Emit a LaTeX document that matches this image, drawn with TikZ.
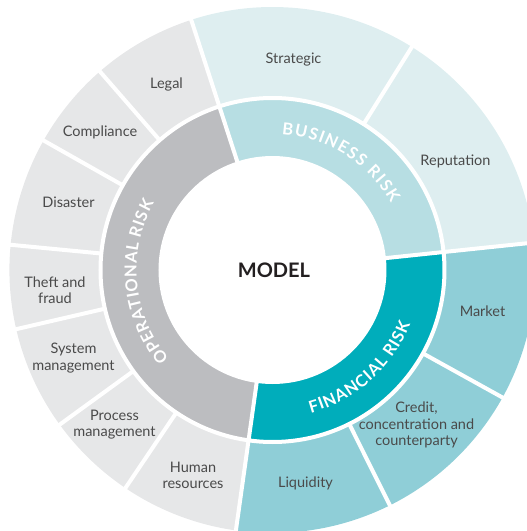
\documentclass[tikz,border=0pt]{standalone}
\usepackage{fontspec}
\setmainfont{Lato}
\usetikzlibrary{decorations.text}

\definecolor{bizmid}{HTML}{B7DEE3}
\definecolor{bizouter}{HTML}{DEEEF0}
\definecolor{finmid}{HTML}{00ADBB}
\definecolor{finouter}{HTML}{8FCED7}
\definecolor{opsmid}{HTML}{BCBDC0}
\definecolor{opsouter}{HTML}{E6E7E8}
\definecolor{labeltext}{HTML}{4A4A4A}
\definecolor{modeltext}{HTML}{231F20}

\tikzset{
  risklabel/.style={align=center, text=labeltext, inner sep=0pt,
    font=\fontsize{14.5}{16.5}\selectfont},
  gapline/.style={white, line width=4pt},
  ringtext/.style={decorate,
    decoration={text along path, text align={fit to path}, text color=white,
      text={|\fontsize{16.5}{16.5}\selectfont\bfseries|#1}}},
}

\begin{document}
\begin{tikzpicture}[x=1pt,y=1pt]
\useasboundingbox (-272.5,-261) rectangle (254.5,270);
\clip (-272.5,-261) rectangle (254.5,270);

\fill[bizouter] (0,0) -- (6:263) arc[start angle=6,end angle=108,radius=263] -- cycle;
\fill[opsouter] (0,0) -- (108:263) arc[start angle=108,end angle=262,radius=263] -- cycle;
\fill[finouter] (0,0) -- (262:263) arc[start angle=262,end angle=366,radius=263] -- cycle;

\fill[bizmid] (0,0) -- (6:172) arc[start angle=6,end angle=108,radius=172] -- cycle;
\fill[opsmid] (0,0) -- (108:172) arc[start angle=108,end angle=262,radius=172] -- cycle;
\fill[finmid] (0,0) -- (262:172) arc[start angle=262,end angle=366,radius=172] -- cycle;

\draw[gapline] (0,0) circle[radius=172];
\fill[white] (0,0) circle[radius=114];

\draw[gapline] (6:110) -- (6:270);
\draw[gapline] (108:110) -- (108:270);
\draw[gapline] (262:110) -- (262:270);

\draw[gapline] (58:172) -- (58:270);
\draw[gapline] (131:172) -- (131:270);
\draw[gapline] (150.5:172) -- (150.5:270);
\draw[gapline] (174.5:172) -- (174.5:270);
\draw[gapline] (193:172) -- (193:270);
\draw[gapline] (216:172) -- (216:270);
\draw[gapline] (236:172) -- (236:270);
\draw[gapline] (296.5:172) -- (296.5:270);
\draw[gapline] (331:172) -- (331:270);

\path[ringtext=BUSINESS RISK]
  (86:136) arc[start angle=86,end angle=29.5,radius=136];
\path[ringtext=FINANCIAL RISK]
  (285:148) arc[start angle=285,end angle=338.5,radius=148];
\path[ringtext=OPERATIONAL RISK]
  (220.5:136) arc[start angle=220.5,end angle=150.5,radius=136];

\node[text=modeltext, font=\fontsize{20}{20}\selectfont\bfseries] (model) at (1.5,0) {MODEL};

\node[risklabel] (strategic) at (21,210) {Strategic};
\node[risklabel] (reputation) at (183,109) {Reputation};
\node[risklabel] (legal) at (-106,186) {Legal};
\node[risklabel] (compliance) at (-172.5,138) {Compliance};
\node[risklabel] (disaster) at (-204,68) {Disaster};
\node[risklabel] (theft) at (-217.5,-20) {Theft and\\fraud};
\node[risklabel] (system) at (-199,-88) {System\\management};
\node[risklabel] (process) at (-158,-154.5) {Process\\management};
\node[risklabel] (human) at (-79.5,-205.5) {Human\\resources};
\node[risklabel] (liquidity) at (33,-213) {Liquidity};
\node[risklabel] (credit) at (144,-155) {Credit,\\concentration and\\counterparty};
\node[risklabel] (market) at (210,-41) {Market};

\end{tikzpicture}
\end{document}
